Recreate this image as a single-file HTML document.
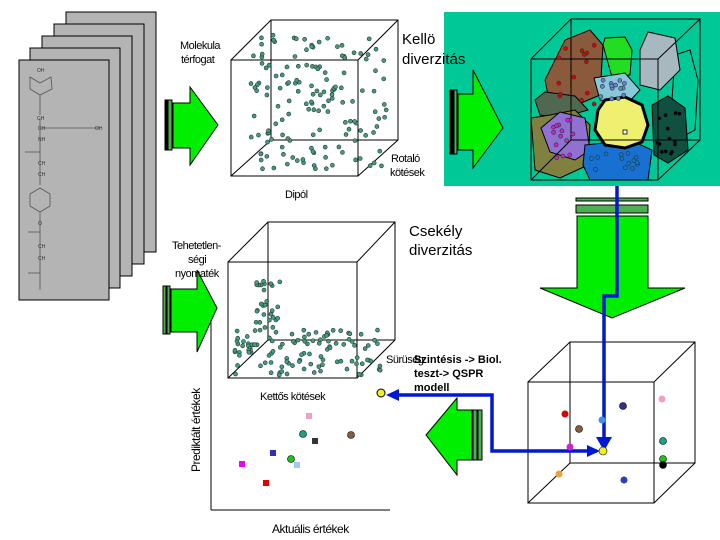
<!DOCTYPE html>
<html><head><meta charset="utf-8"><style>
body{margin:0;background:#fff;}
svg{display:block;font-family:"Liberation Sans",sans-serif;}
</style></head><body>
<svg id="s" width="720" height="540" viewBox="0 0 720 540" xmlns="http://www.w3.org/2000/svg">
<g fill="#b4b4b4" stroke="#000" stroke-width="1">
<rect x="66" y="12" width="90" height="240"/>
<rect x="54" y="24" width="90" height="240"/>
<rect x="42" y="36" width="90" height="240"/>
<rect x="30" y="48" width="90" height="240"/>
<rect x="19" y="60" width="90" height="240"/>
</g>
<g stroke="#555" fill="none" stroke-width="0.8">
<polygon points="40,83 51,77 52,89 40,95 30,89 30,77"/>
<line x1="40" y1="95" x2="40" y2="115"/><line x1="40" y1="128" x2="100" y2="128"/>
<line x1="40" y1="118" x2="40" y2="185"/><line x1="25" y1="152" x2="40" y2="152"/>
<polygon points="40,188 50,194 50,206 40,212 30,206 30,194"/>
<line x1="40" y1="212" x2="40" y2="290"/><line x1="28" y1="232" x2="40" y2="232"/><line x1="28" y1="273" x2="40" y2="273"/>
</g>
<g font-size="5" fill="#333">
<text x="37" y="72">OH</text><text x="37" y="120">CH</text><text x="38" y="130">CH</text><text x="95" y="130">OH</text><text x="38" y="141">NH</text><text x="38" y="165">CH</text><text x="38" y="176">CH</text><text x="38" y="225">O</text><text x="38" y="248">CH</text><text x="38" y="260">CH</text>
</g>
<rect x="444" y="12" width="276" height="174" fill="#00c896"/>
<g stroke="#000" stroke-width="1">
<path d="M675,55 L690,50 L698,80 L695,130 L680,138 L672,100Z" fill="none"/>
<path d="M553,120 L545,80 L565,40 L590,30 L603,45 L600,95 L560,112Z" fill="#8b5a3c"/>
<path d="M603,45 L605,38 L625,37 L632,50 L630,75 L612,77Z" fill="#22dd22"/>
<path d="M640,50 L648,32 L675,38 L680,70 L660,90 L640,85Z" fill="#a8b8c0"/>
<path d="M594,78 L625,73 L640,90 L628,103 L600,100Z" fill="#88c8d8"/>
<path d="M535,100 L545,92 L575,96 L588,110 L560,118 L540,115Z" fill="#506850"/>
<path d="M531,118 L550,115 L575,110 L590,125 L588,165 L560,178 L535,170Z" fill="#808040"/>
<path d="M541,128 L560,112 L585,118 L590,150 L575,160 L550,152Z" fill="#9070d0"/>
<path d="M585,145 L630,140 L652,150 L648,180 L590,180 L583,165Z" fill="#1870d0"/>
<path d="M652,105 L668,96 L685,108 L688,150 L668,163 L654,155Z" fill="#105040"/>
</g>
<path d="M598,110 L605,100 L625,97 L642,105 L648,125 L642,142 L625,148 L605,145 L595,130Z" fill="#f0f070" stroke="#000" stroke-width="3"/>
<rect x="623" y="130" width="4" height="4" fill="#fff" stroke="#000" stroke-width="0.8"/>
<g fill="none" stroke="#000" stroke-width="1">
<rect x="531" y="59" width="127" height="121"/><rect x="571" y="19" width="129" height="121"/>
<line x1="531" y1="59" x2="571" y2="19"/><line x1="658" y1="59" x2="700" y2="19"/><line x1="531" y1="180" x2="571" y2="140"/><line x1="658" y1="180" x2="700" y2="140"/>
</g>
<g id="blobdots"></g>
<g fill="none" stroke="#000" stroke-width="1">
<rect x="231" y="60" width="127" height="116"/><rect x="271" y="20" width="127" height="120"/>
<line x1="231" y1="60" x2="271" y2="20"/><line x1="358" y1="60" x2="398" y2="20"/><line x1="231" y1="176" x2="271" y2="140"/><line x1="358" y1="176" x2="398" y2="140"/>
<rect x="228" y="262" width="129" height="116"/><rect x="268" y="222" width="127" height="118"/>
<line x1="228" y1="262" x2="268" y2="222"/><line x1="357" y1="262" x2="395" y2="222"/><line x1="228" y1="378" x2="268" y2="340"/><line x1="357" y1="378" x2="395" y2="340"/>
<rect x="528" y="382" width="126" height="121"/><rect x="570" y="342" width="125" height="121"/>
<line x1="528" y1="382" x2="570" y2="342"/><line x1="654" y1="382" x2="695" y2="342"/><line x1="528" y1="503" x2="570" y2="463"/><line x1="654" y1="503" x2="695" y2="463"/>
</g>
<g id="sc1"></g><g id="sc2"></g>
<g stroke="#000" stroke-width="1" fill="#00ee00">
<rect x="165" y="100" width="3" height="50" fill="#000"/><rect x="168" y="100" width="4" height="50" fill="#4caf50"/>
<path d="M173,103 L190,103 L190,87 L218,125 L190,165 L190,148 L173,148Z"/>
<rect x="163" y="286" width="3" height="48" fill="#4caf50"/><rect x="167" y="286" width="3" height="48" fill="#4caf50"/>
<path d="M171,289 L197,289 L197,270 L217,308 L197,352 L197,332 L171,332Z"/>
<rect x="450" y="90" width="3" height="64" fill="#000"/><rect x="454" y="90" width="3" height="64" fill="#4caf50"/>
<path d="M458,94 L473,94 L473,70 L503,128 L473,168 L473,150 L458,150Z"/>
<rect x="576" y="198" width="72" height="3" fill="#4caf50"/><rect x="576" y="205" width="72" height="8" fill="#4caf50"/>
<path d="M577,216 L648,216 L648,288 L685,288 L612,318 L540,288 L577,288Z"/>
<rect x="473" y="410" width="4" height="50" fill="#4caf50"/><rect x="478" y="410" width="4" height="50" fill="#4caf50"/>
<path d="M472,410 L457,410 L457,398 L426,435 L457,475 L457,460 L472,460Z"/>
</g>
<line x1="211" y1="320" x2="211" y2="510" stroke="#000"/><line x1="211" y1="510" x2="390" y2="510" stroke="#000"/>
<g stroke="#0018d0" stroke-width="3.5" fill="none">
<polyline points="617,186 617,296 604,296 604,440"/>
<polyline points="597,451 492,451 492,395 392,395"/>
</g>
<g fill="#0018d0">
<polygon points="596,437 612,437 604,451"/><polygon points="587,445 587,457 600,451"/><polygon points="386,395 399,389 399,401"/>
</g>
<circle cx="381" cy="393" r="4" fill="#f0f020" stroke="#000"/>
<g stroke="#000" stroke-width="0.6">
<circle cx="565" cy="414" r="3.5" fill="#e00000" stroke="none"/><circle cx="579" cy="429" r="3.5" fill="#8b5a3c"/><circle cx="602" cy="420" r="3.5" fill="#4090f0" stroke="none"/><circle cx="623" cy="406" r="3.5" fill="#303090"/><circle cx="662" cy="399" r="3.5" fill="#f0a0c8" stroke="none"/><circle cx="663" cy="441" r="3.5" fill="#20a080"/><circle cx="663" cy="459" r="3.5" fill="#20c020"/><circle cx="663" cy="465" r="3.5" fill="#000"/><circle cx="570" cy="447" r="3.5" fill="#d020d0" stroke="none"/><circle cx="559" cy="474" r="3.5" fill="#f0a040" stroke="none"/><circle cx="624" cy="480" r="3.5" fill="#3040b0" stroke="none"/><circle cx="603" cy="451" r="4" fill="#f0f020"/>
<rect x="306" y="413" width="6" height="6" fill="#f0a0c8" stroke="none"/><circle cx="303" cy="434" r="3.5" fill="#20a080"/><rect x="312" y="438" width="6" height="6" fill="#333" stroke="none"/><circle cx="351" cy="435" r="3.5" fill="#8b5a3c"/><rect x="270" y="450" width="6" height="6" fill="#3030b0" stroke="none"/><circle cx="291" cy="459" r="3.5" fill="#20c020"/><rect x="294" y="462" width="6" height="6" fill="#a0c8f0" stroke="none"/><rect x="239" y="461" width="6" height="6" fill="#f000f0" stroke="none"/><rect x="263" y="480" width="6" height="6" fill="#e00000" stroke="none"/>
</g>
<g font-size="11" fill="#000" letter-spacing="-0.5">
<text x="180" y="49">Molekula</text><text x="181" y="63">térfogat</text>
<text x="391" y="162">Rotaló</text><text x="390" y="176">kötések</text>
<text x="285" y="198">Dipól</text>
<text x="172" y="249">Tehetetlen-</text><text x="188" y="263">ségi</text><text x="175" y="277">nyomaték</text>
<text x="260" y="400">Kettős kötések</text>
<text x="272" y="533" font-size="12">Aktuális értékek</text>
<text transform="translate(200,472) rotate(-90)" font-size="12">Prediktált értékek</text>
<text x="386" y="363">Sürüség</text>
</g>
<g font-size="15" fill="#000">
<text x="402" y="44">Kellö</text><text x="402" y="64">diverzitás</text>
<text x="409" y="236">Csekély</text><text x="409" y="255">diverzitás</text>
</g>
<g font-size="11" font-weight="bold" fill="#000">
<text x="414" y="363">Szintésis -&gt; Biol.</text><text x="414" y="377">teszt-&gt; QSPR</text><text x="414" y="391">modell</text>
</g>
</svg>
<script>
var s=7;function r(){s=(s*9301+49297)%233280;return s/233280;}
var NS="http://www.w3.org/2000/svg";
function dot(g,x,y,f,rad){var c=document.createElementNS(NS,"circle");c.setAttribute("cx",x);c.setAttribute("cy",y);c.setAttribute("r",rad||2);c.setAttribute("fill",f);c.setAttribute("stroke","#1a3a30");c.setAttribute("stroke-width","0.6");g.appendChild(c);}
var g1=document.getElementById("sc1");
for(var i=0;i<150;i++){dot(g1,250+r()*140,35+r()*135,"#4a9a80");}
var g2=document.getElementById("sc2");
for(var i=0;i<110;i++){dot(g2,235+r()*150,330+r()*45,"#4a9a80");}
for(var i=0;i<30;i++){dot(g2,255+r()*25,275+r()*60,"#4a9a80");}
var g3=document.getElementById("blobdots");
var cl=[["#e00000",555,45,40,60],["#d020d0",550,120,30,40],["#000",655,110,25,45],["#1870d0",590,150,55,25],["#7080d0",600,80,25,20]];
cl.forEach(function(c){for(var i=0;i<14;i++)dot(g3,c[1]+r()*c[3],c[2]+r()*c[4],c[0],2);});
</script>
</body></html>
